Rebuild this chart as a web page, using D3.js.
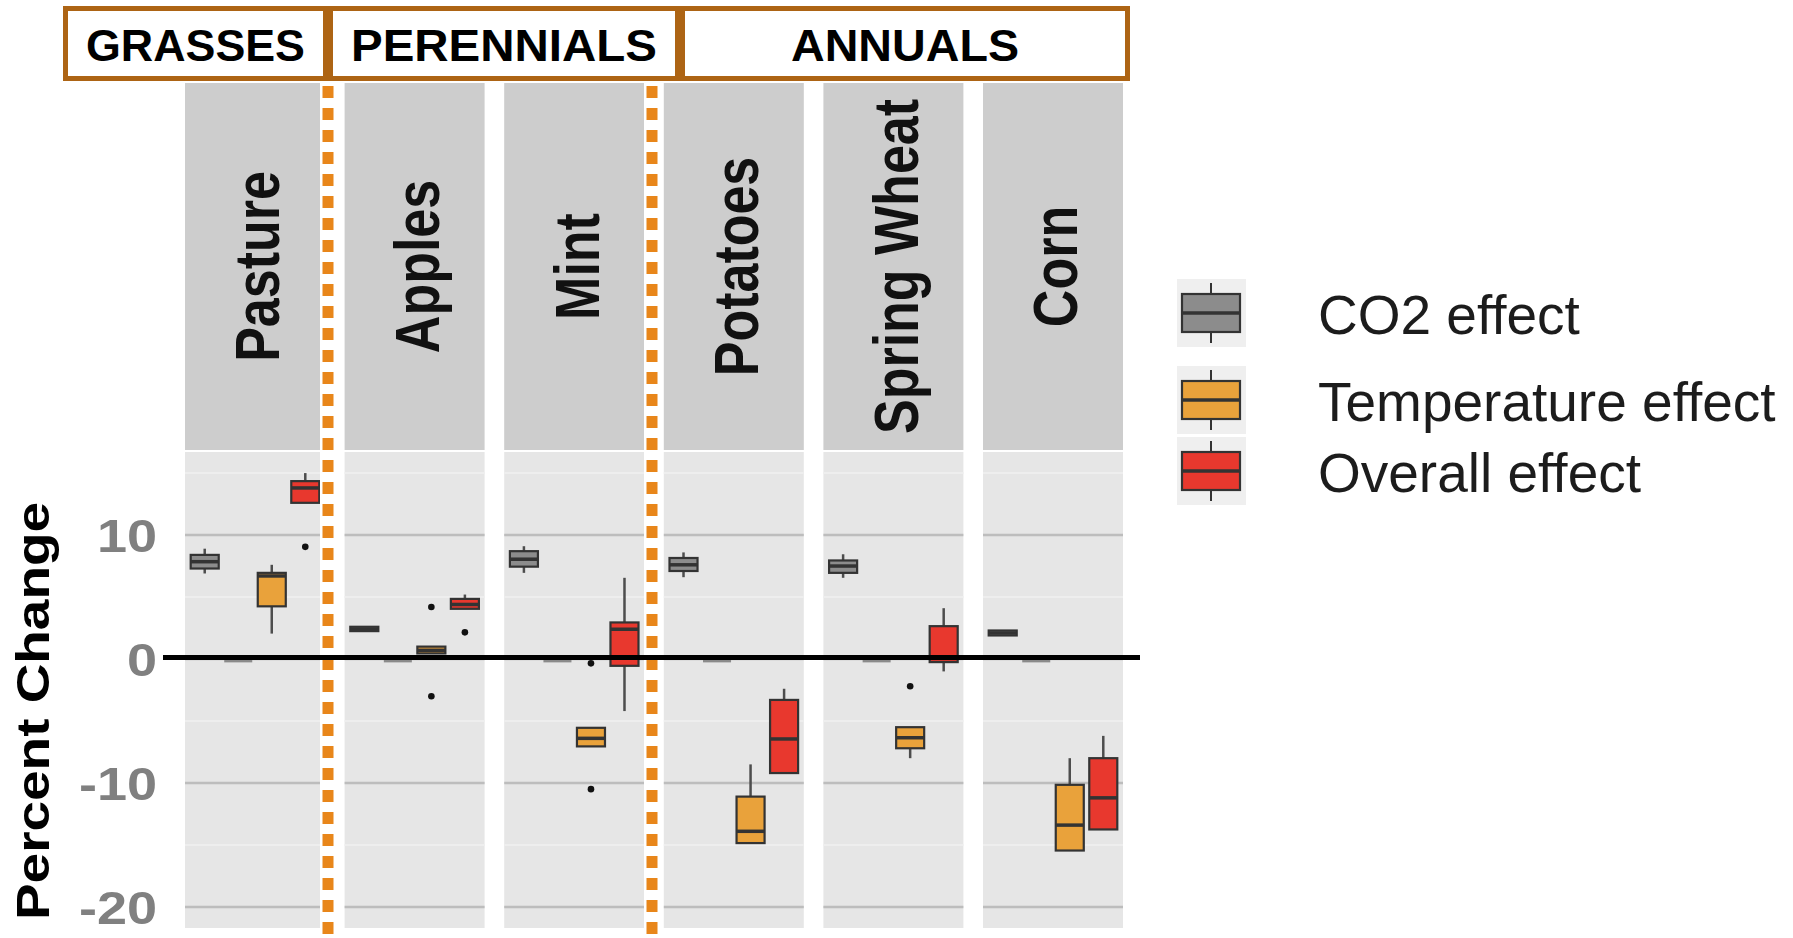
<!DOCTYPE html>
<html>
<head>
<meta charset="utf-8">
<script src="https://cdn.jsdelivr.net/npm/d3@7"></script>
<style>
  body { margin: 0; background: #fff; }
  svg { display: block; }
  text { font-family: "Liberation Sans", Arial, Helvetica, sans-serif; }
</style>
</head>
<body>
<svg id="chart" width="1793" height="938"></svg>
<script>
// ---- data -------------------------------------------------------------
const crops = ["Pasture", "Apples", "Mint", "Potatoes", "Spring Wheat", "Corn"];
const slots = ["co2", "flat", "temperature", "overall"];   // dodge order inside a facet
const legendLabels = ["CO2 effect", "Temperature effect", "Overall effect"];
const groupLabels = ["GRASSES", "PERENNIALS", "ANNUALS"];
const yTicks = [10, 0, -10, -20];
const minorTicks = [15, 5, -5, -15];

// five-number summaries per crop: [lower whisker, q1, median, q3, upper whisker]
const co2Stats = [
  [6.9, 7.3, 7.85, 8.4, 8.9],
  [2.2, 2.25, 2.4, 2.6, 2.65],
  [6.95, 7.45, 8.05, 8.7, 9.1],
  [6.6, 7.1, 7.6, 8.15, 8.6],
  [6.55, 6.95, 7.5, 7.95, 8.45],
  [1.9, 1.9, 2.1, 2.3, 2.3]
];
const flatStats = [
  [-0.15, -0.15, -0.15, -0.15, -0.15],
  [-0.15, -0.15, -0.15, -0.15, -0.15],
  [-0.15, -0.15, -0.15, -0.15, -0.15],
  [-0.15, -0.15, -0.15, -0.15, -0.15],
  [-0.15, -0.15, -0.15, -0.15, -0.15],
  [-0.15, -0.15, -0.15, -0.15, -0.15]
];
const temperatureStats = [
  [2.05, 4.25, 6.7, 6.95, 7.6],
  [0.45, 0.45, 0.7, 1.0, 1.0],
  [-7.05, -7.05, -6.4, -5.55, -5.55],
  [-14.85, -14.85, -13.9, -11.1, -8.5],
  [-8.0, -7.2, -6.35, -5.5, -5.5],
  [-15.45, -15.45, -13.4, -10.15, -8.0]
];
const overallStats = [
  [12.6, 12.6, 13.8, 14.35, 15.0],
  [4.05, 4.05, 4.4, 4.85, 5.2],
  [-4.2, -0.55, 2.4, 2.95, 6.55],
  [-9.2, -9.2, -6.45, -3.3, -2.4],
  [-1.0, -0.25, 0.05, 2.65, 4.1],
  [-13.75, -13.75, -11.2, -8.0, -6.2]
];
const temperatureOutliers = [[], [4.2, -3.0], [-0.35, -10.5], [], [-2.2], []];
const overallOutliers = [[9.05], [2.15], [], [], [], []];

// ---- styles -----------------------------------------------------------
const fills = { co2: "#8c8c8c", flat: "#9a9a9a", temperature: "#E9A23B", overall: "#E8382E" };
const statsBySlot = { co2: co2Stats, flat: flatStats, temperature: temperatureStats, overall: overallStats };
const outliersBySlot = { co2: crops.map(() => []), flat: crops.map(() => []),
                         temperature: temperatureOutliers, overall: overallOutliers };

const svg = d3.select("#chart");

// ---- scales -----------------------------------------------------------
const x = d3.scaleBand().domain(crops).range([185, 1123]).paddingInner(0.1228);
const xs = d3.scaleBand().domain(slots).range([0, x.bandwidth()])
  .paddingInner(0.164).paddingOuter(0.17);
const y = d3.scaleLinear().domain([-21.7, 16.7]).range([928, 452]);

const stripTop = 83, stripBottom = 450;

// ---- facet strips and panels ----------------------------------------------
const facet = svg.append("g").selectAll("g.facet").data(crops).join("g")
  .attr("class", "facet")
  .attr("transform", d => `translate(${x(d)},0)`);

facet.append("rect")
  .attr("x", 0).attr("y", stripTop)
  .attr("width", x.bandwidth()).attr("height", stripBottom - stripTop)
  .attr("fill", "#cdcdcd");

facet.append("rect")
  .attr("x", 0).attr("y", y.range()[1])
  .attr("width", x.bandwidth()).attr("height", y.range()[0] - y.range()[1])
  .attr("fill", "#e6e6e6");

facet.selectAll("line.minor").data(minorTicks).join("line")
  .attr("x1", 0).attr("x2", x.bandwidth())
  .attr("y1", d => y(d)).attr("y2", d => y(d))
  .attr("stroke", "#eeeeee").attr("stroke-width", 2);

facet.selectAll("line.major").data(yTicks).join("line")
  .attr("x1", 0).attr("x2", x.bandwidth())
  .attr("y1", d => y(d)).attr("y2", d => y(d))
  .attr("stroke", "#bdbdbd").attr("stroke-width", 2.5);

facet.append("text")
  .attr("transform", `translate(${x.bandwidth() / 2 + 2},${(stripTop + stripBottom) / 2}) rotate(-90) scale(1,1.2)`)
  .attr("text-anchor", "middle")
  .attr("dy", "0.36em")
  .attr("font-size", 52)
  .attr("font-weight", "bold")
  .attr("fill", "#111")
  .text(d => d);

// ---- boxplots -----------------------------------------------------------
slots.forEach(slot => {
  const boxes = facet.append("g").attr("class", "box-" + slot)
    .attr("transform", `translate(${xs(slot)},0)`);
  const bw = xs.bandwidth();
  const statOf = (d) => statsBySlot[slot][crops.indexOf(d)];

  if (slot === "flat") {
    boxes.append("line")
      .attr("x1", 0).attr("x2", bw)
      .attr("y1", d => y(statOf(d)[2])).attr("y2", d => y(statOf(d)[2]))
      .attr("stroke", "#8a8a8a").attr("stroke-width", 3);
    return;
  }

  boxes.append("line")
    .attr("x1", bw / 2).attr("x2", bw / 2)
    .attr("y1", d => y(statOf(d)[0])).attr("y2", d => y(statOf(d)[4]))
    .attr("stroke", "#4d4d4d").attr("stroke-width", 2.5);

  boxes.append("rect")
    .attr("x", 0).attr("width", bw)
    .attr("y", d => y(statOf(d)[3]))
    .attr("height", d => Math.max(1, y(statOf(d)[1]) - y(statOf(d)[3])))
    .attr("fill", fills[slot])
    .attr("stroke", "#333").attr("stroke-width", 2.2);

  boxes.append("line")
    .attr("x1", 0).attr("x2", bw)
    .attr("y1", d => y(statOf(d)[2])).attr("y2", d => y(statOf(d)[2]))
    .attr("stroke", "#333").attr("stroke-width", 3.5);

  boxes.selectAll("circle")
    .data(d => outliersBySlot[slot][crops.indexOf(d)])
    .join("circle")
    .attr("cx", bw / 2).attr("cy", v => y(v)).attr("r", 3.3)
    .attr("fill", "#111");
});

// ---- y axis ------------------------------------------------------------------
const yAxis = svg.append("g")
  .attr("transform", "translate(157,0)")
  .call(d3.axisLeft(y).tickValues(yTicks).tickSize(0).tickPadding(0)
    .tickFormat(d => String(d)));
yAxis.select(".domain").remove();
yAxis.selectAll("text")
  .attr("x", 0)
  .attr("dy", "0.36em")
  .attr("transform", "scale(1.15,1)")
  .attr("font-size", 47)
  .attr("font-weight", "bold")
  .attr("font-family", "'Liberation Sans', Arial, sans-serif")
  .attr("fill", "#808080");

svg.append("text")
  .attr("transform", "translate(49,711) rotate(-90)")
  .attr("text-anchor", "middle")
  .attr("font-size", 46)
  .attr("font-weight", "bold")
  .attr("textLength", 418)
  .attr("lengthAdjust", "spacingAndGlyphs")
  .attr("fill", "#000")
  .text("Percent Change");

// ---- group dividers ---------------------------------------------------------------
const dividerXs = [328, 652];
svg.selectAll("line.divider-bg").data(dividerXs).join("line")
  .attr("x1", d => d).attr("x2", d => d)
  .attr("y1", 83).attr("y2", 938)
  .attr("stroke", "#fff").attr("stroke-width", 16);
svg.selectAll("line.divider").data(dividerXs).join("line")
  .attr("x1", d => d).attr("x2", d => d)
  .attr("y1", 86).attr("y2", 938)
  .attr("stroke", "#E8861A").attr("stroke-width", 11)
  .attr("stroke-dasharray", "12 10");

// ---- zero reference line ------------------------------------------------------------
svg.append("line")
  .attr("x1", 163).attr("x2", 1140)
  .attr("y1", y(0) - 1.5).attr("y2", y(0) - 1.5)
  .attr("stroke", "#000").attr("stroke-width", 5);

// ---- group headers ---------------------------------------------------------------
const headerSpans = [[63, 328], [328, 680], [680, 1130]];
const headerTextWidths = [219, 306, 228];
const header = svg.append("g").selectAll("g").data(groupLabels).join("g");
header.append("rect")
  .attr("x", (d, i) => headerSpans[i][0] + 2.5)
  .attr("y", 8.5)
  .attr("width", (d, i) => headerSpans[i][1] - headerSpans[i][0] - 5)
  .attr("height", 70)
  .attr("fill", "#fff")
  .attr("stroke", "#AD6414").attr("stroke-width", 5);
header.append("text")
  .attr("x", (d, i) => (headerSpans[i][0] + headerSpans[i][1]) / 2)
  .attr("y", 61)
  .attr("text-anchor", "middle")
  .attr("font-size", 44)
  .attr("font-weight", "bold")
  .attr("textLength", (d, i) => headerTextWidths[i])
  .attr("lengthAdjust", "spacingAndGlyphs")
  .attr("fill", "#000")
  .text(d => d);

// ---- legend ------------------------------------------------------------------
const legendSlots = ["co2", "temperature", "overall"];
const legendCenters = [313, 400, 471];
const legend = svg.append("g").selectAll("g").data(legendLabels).join("g")
  .attr("transform", (d, i) => `translate(1211,${legendCenters[i]})`);
legend.append("rect")
  .attr("x", -34).attr("y", -34).attr("width", 69).attr("height", 68)
  .attr("fill", "#efefef");
legend.append("line")
  .attr("x1", 0).attr("x2", 0).attr("y1", -30).attr("y2", 30)
  .attr("stroke", "#333").attr("stroke-width", 2);
legend.append("rect")
  .attr("x", -29).attr("y", -19).attr("width", 58).attr("height", 38)
  .attr("fill", (d, i) => fills[legendSlots[i]])
  .attr("stroke", "#333").attr("stroke-width", 2.2);
legend.append("line")
  .attr("x1", -29).attr("x2", 29).attr("y1", 0).attr("y2", 0)
  .attr("stroke", "#333").attr("stroke-width", 3.5);
legend.append("text")
  .attr("x", 107)
  .attr("y", 21)
  .attr("font-size", 55)
  .attr("fill", "#1c1c1c")
  .text(d => d);
</script>
</body>
</html>
